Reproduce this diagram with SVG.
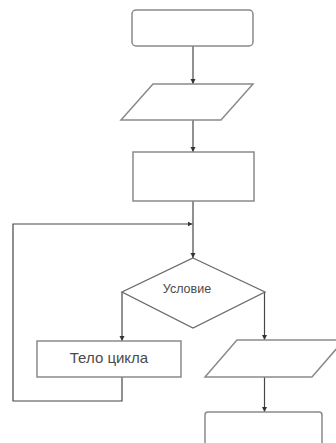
<svg xmlns="http://www.w3.org/2000/svg" width="336" height="443" viewBox="0 0 336 443">
<style>
.shape{fill:#fff;stroke:#8a8a8a;stroke-width:1.5}
.dia{fill:#fff;stroke:#6a6a6a;stroke-width:1.3}
.con{fill:none;stroke:#474747;stroke-width:1.2}
.txt{font-family:"Liberation Sans",Arial,sans-serif;fill:#4a4a4a;text-anchor:middle}
</style>
<defs>
<marker id="ah" markerWidth="6" markerHeight="6" refX="5" refY="3" orient="auto" markerUnits="userSpaceOnUse">
<path d="M0,0.5 L5,3 L0,5.5 Z" fill="#333"/>
</marker>
</defs>
<rect width="336" height="443" fill="#fff"/>
<g id="connectors">
<path class="con" d="M193,46 V84" marker-end="url(#ah)"/>
<path class="con" d="M193,120 V152" marker-end="url(#ah)"/>
<path class="con" d="M193,201 V258" marker-end="url(#ah)"/>
<path class="con" d="M122,377 V401 H13 V224 H192.5" marker-end="url(#ah)"/>
<path class="con" d="M122,292 V341" marker-end="url(#ah)"/>
<path class="con" d="M264.5,292 V340" marker-end="url(#ah)"/>
<path class="con" d="M264.5,377 V412" marker-end="url(#ah)"/>
</g>
<g id="start">
<rect class="shape" x="132" y="10" width="121" height="36" rx="4"/>
</g>
<g id="input">
<polygon class="shape" points="153,84 253,84 221,120 121,120"/>
</g>
<g id="process">
<rect class="shape" x="133" y="152" width="121" height="49"/>
</g>
<g id="condition">
<polygon class="dia" points="193,258 265,292 193,328 122,292"/>
<text class="txt" x="187" y="293" font-size="12.5">Условие</text>
</g>
<g id="body">
<rect class="shape" x="37" y="341" width="144" height="36"/>
<text class="txt" x="109" y="363" font-size="15">Тело цикла</text>
</g>
<g id="output">
<polygon class="shape" points="237,340 344,340 312,377 205,377"/>
</g>
<g id="end">
<rect class="shape" x="205" y="412" width="117" height="40" rx="3"/>
</g>
</svg>
